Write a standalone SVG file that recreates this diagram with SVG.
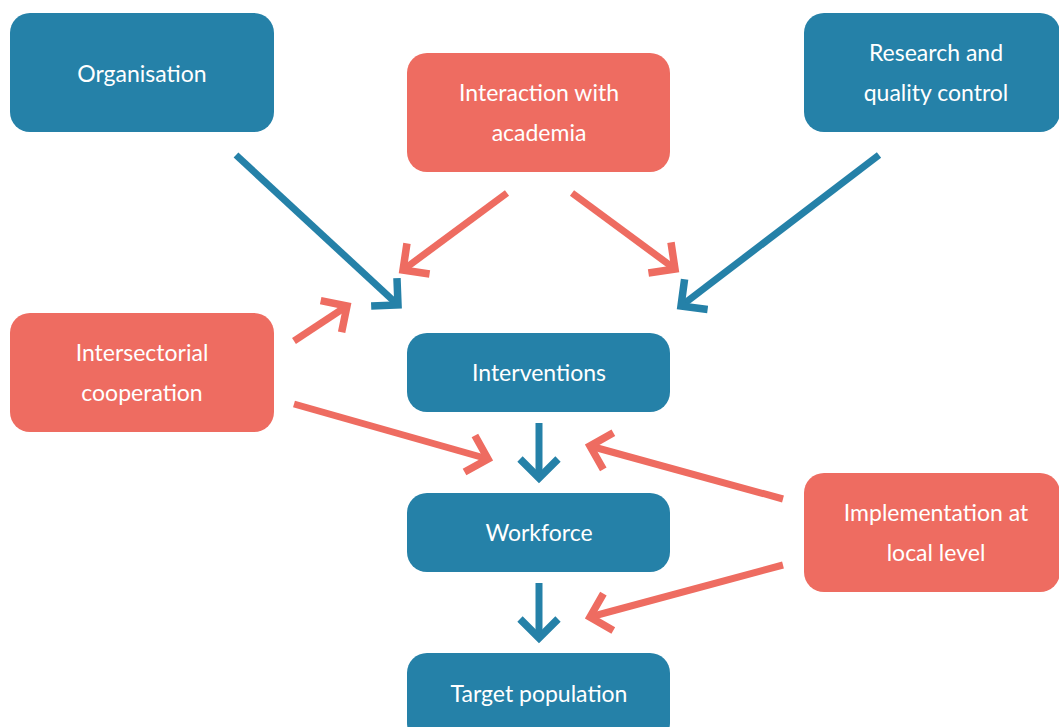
<svg xmlns="http://www.w3.org/2000/svg" width="1059" height="727" viewBox="0 0 1059 727">
<style>
.blue{fill:#2581a8}
.red{fill:#ee6c61}
.t{font-family:Lato,"Open Sans","Liberation Sans",sans-serif;font-size:23px;fill:#ffffff;text-anchor:middle}
.cb{stroke:#2581a8;stroke-width:7;fill:none}
.cr{stroke:#ee6c61;stroke-width:7;fill:none}
</style>
<defs>
<marker id="hb" markerUnits="userSpaceOnUse" markerWidth="60" markerHeight="60" viewBox="-30 -30 60 60" refX="0" refY="0" orient="auto" overflow="visible">
<path d="M-19,-19 L0,0 L-19,19" fill="none" stroke="#2581a8" stroke-width="7.5" stroke-linejoin="miter"/>
</marker>
<marker id="hr" markerUnits="userSpaceOnUse" markerWidth="60" markerHeight="60" viewBox="-30 -30 60 60" refX="0" refY="0" orient="auto" overflow="visible">
<path d="M-19,-19 L0,0 L-19,19" fill="none" stroke="#ee6c61" stroke-width="7.5" stroke-linejoin="miter"/>
</marker>
</defs>
<rect width="1059" height="727" fill="#ffffff"/>
<g id="organisation"><rect class="blue" x="10" y="13" width="264" height="119" rx="20"/><text class="t" x="142" y="82">Organisation</text></g>
<g id="interaction"><rect class="red" x="407" y="53" width="263" height="119" rx="20"/><text class="t" x="539" y="101">Interaction with</text><text class="t" x="539" y="141">academia</text></g>
<g id="research"><rect class="blue" x="804" y="13" width="256" height="119" rx="20"/><text class="t" x="936" y="61">Research and</text><text class="t" x="936" y="101">quality control</text></g>
<g id="intersectorial"><rect class="red" x="10" y="313" width="264" height="119" rx="20"/><text class="t" x="142" y="361">Intersectorial</text><text class="t" x="142" y="401">cooperation</text></g>
<g id="interventions"><rect class="blue" x="407" y="333" width="263" height="79" rx="20"/><text class="t" x="539" y="381">Interventions</text></g>
<g id="workforce"><rect class="blue" x="407" y="493" width="263" height="79" rx="20"/><text class="t" x="539" y="541">Workforce</text></g>
<g id="target"><rect class="blue" x="407" y="653" width="263" height="90" rx="20"/><text class="t" x="539" y="702">Target population</text></g>
<g id="implementation"><rect class="red" x="804" y="473" width="256" height="119" rx="20"/><text class="t" x="936" y="521">Implementation at</text><text class="t" x="936" y="561">local level</text></g>
<g id="connectors">
<line class="cb" x1="236" y1="155" x2="398" y2="305" marker-end="url(#hb)"/>
<line class="cb" x1="879" y1="155" x2="681" y2="306" marker-end="url(#hb)"/>
<line class="cr" x1="507" y1="193" x2="403" y2="270" marker-end="url(#hr)"/>
<line class="cr" x1="572" y1="193" x2="675" y2="269" marker-end="url(#hr)"/>
<line class="cr" x1="294" y1="341" x2="347" y2="306" marker-end="url(#hr)"/>
<line class="cr" x1="294" y1="404" x2="488" y2="459" marker-end="url(#hr)"/>
<line class="cb" x1="539" y1="423" x2="539" y2="478" marker-end="url(#hb)"/>
<line class="cb" x1="539" y1="583" x2="539" y2="638" marker-end="url(#hb)"/>
<line class="cr" x1="783" y1="499" x2="590" y2="446" marker-end="url(#hr)"/>
<line class="cr" x1="783" y1="565" x2="590" y2="617" marker-end="url(#hr)"/>
</g>
</svg>
